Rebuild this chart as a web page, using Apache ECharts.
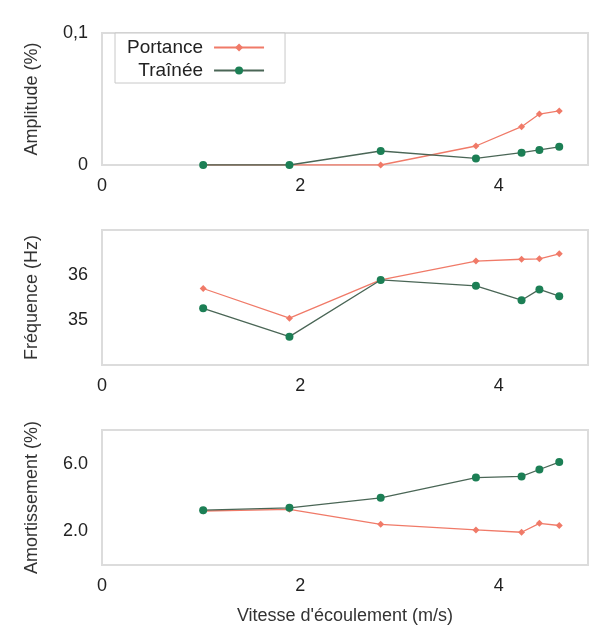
<!DOCTYPE html>
<html><head><meta charset="utf-8">
<script src="https://cdn.jsdelivr.net/npm/echarts@6/dist/echarts.min.js"></script>
<style>html,body{margin:0;padding:0;background:#fff}#c{width:595px;height:626px}</style>
</head><body><div id="c"></div>
<script>
const vitesse = [1.02, 1.89, 2.81, 3.77, 4.23, 4.41, 4.61];
const ampPortance = [0.0, 0.0, 0.0, 0.0144, 0.029, 0.0386, 0.041];
const ampTrainee = [0.0, 0.0, 0.0106, 0.005, 0.0093, 0.0114, 0.0138];
const freqPortance = [35.70, 35.04, 35.89, 36.31, 36.35, 36.36, 36.47];
const freqTrainee = [35.26, 34.63, 35.89, 35.76, 35.44, 35.68, 35.53];
const amorPortance = [3.2, 3.3, 2.41, 2.08, 1.94, 2.47, 2.34];
const amorTrainee = [3.25, 3.39, 3.98, 5.18, 5.25, 5.66, 6.1];
const xTicks = [0, 2, 4];
const ampTicks = [0, 0.1];
const freqTicks = [35, 36];
const amorTicks = [2, 6];
const seriesNames = ['Portance', 'Traînée'];

const RED = '#f07a68', GREEN = '#1c7f55', GLINE = '#4a6656';
const font = 'Liberation Sans';
const pair = (xs, ys) => xs.map((x, i) => [x, ys[i]]);

const grids = [
  {left: 102, right: 7, top: 33, height: 132},
  {left: 102, right: 7, top: 230, height: 135},
  {left: 102, right: 7, top: 430, height: 137}
].map(g => Object.assign(g, {show: true, borderColor: '#dcdcdc', borderWidth: 2, backgroundColor: '#fff'}));

const xAxes = [0, 1, 2].map(i => ({
  type: 'value', gridIndex: i, min: 0, max: 4.9,
  axisLine: {show: false}, axisTick: {show: false}, splitLine: {show: false},
  axisLabel: {customValues: xTicks, fontFamily: font, fontSize: 18, color: '#222', margin: 12},
  name: i === 2 ? "Vitesse d'écoulement (m/s)" : '',
  nameLocation: 'middle', nameGap: 42,
  nameTextStyle: {fontFamily: font, fontSize: 18, color: '#333'}
}));

const yCommon = (i, min, max, ticks, fmt, name) => ({
  type: 'value', gridIndex: i, min: min, max: max,
  axisLine: {show: false}, axisTick: {show: false}, splitLine: {show: false},
  axisLabel: {customValues: ticks, formatter: fmt, fontFamily: font, fontSize: 18, color: '#222', margin: 14},
  name: name, nameLocation: 'middle', nameRotate: 90, nameGap: 61,
  nameTextStyle: {fontFamily: font, fontSize: 18, color: '#333'}
});
const yAxes = [
  yCommon(0, 0, 0.1, ampTicks, v => v === 0 ? '0' : String(v).replace('.', ','), 'Amplitude (%)'),
  yCommon(1, 34, 37, freqTicks, v => String(v), 'Fréquence (Hz)'),
  yCommon(2, 0, 8, amorTicks, v => v.toFixed(1), 'Amortissement (%)')
];

const mk = (name, i, ys, isRed) => ({
  name: name, type: 'line', xAxisIndex: i, yAxisIndex: i,
  data: pair(vitesse, ys),
  symbol: isRed ? 'diamond' : 'circle', symbolSize: isRed ? 7 : 8,
  lineStyle: {color: isRed ? RED : GLINE, width: 1.3},
  itemStyle: {color: isRed ? RED : GREEN},
  z: isRed ? 2 : 3, animation: false
});

const series = [];
[[ampPortance, ampTrainee], [freqPortance, freqTrainee], [amorPortance, amorTrainee]].forEach((p, i) => {
  series.push(mk(seriesNames[0], i, p[0], true));
  series.push(mk(seriesNames[1], i, p[1], false));
});

const chart = echarts.init(document.getElementById('c'), null, {renderer: 'canvas'});
chart.setOption({
  backgroundColor: '#fff',
  animation: false,
  grid: grids, xAxis: xAxes, yAxis: yAxes, series: series,
  legend: {
    data: [{name: seriesNames[0], itemStyle: {color: RED}}, {name: seriesNames[1], itemStyle: {color: GREEN}}],
    left: 115, top: 33, orient: 'vertical', align: 'right',
    itemWidth: 50, itemHeight: 10, itemGap: 4,
    borderColor: '#c8c8c8', borderWidth: 1, padding: [5, 20, 3, 12],
    backgroundColor: '#fff',
    textStyle: {fontFamily: font, fontSize: 19, color: '#222', padding: [0, 6, 0, 0]}
  }
});
</script></body></html>
